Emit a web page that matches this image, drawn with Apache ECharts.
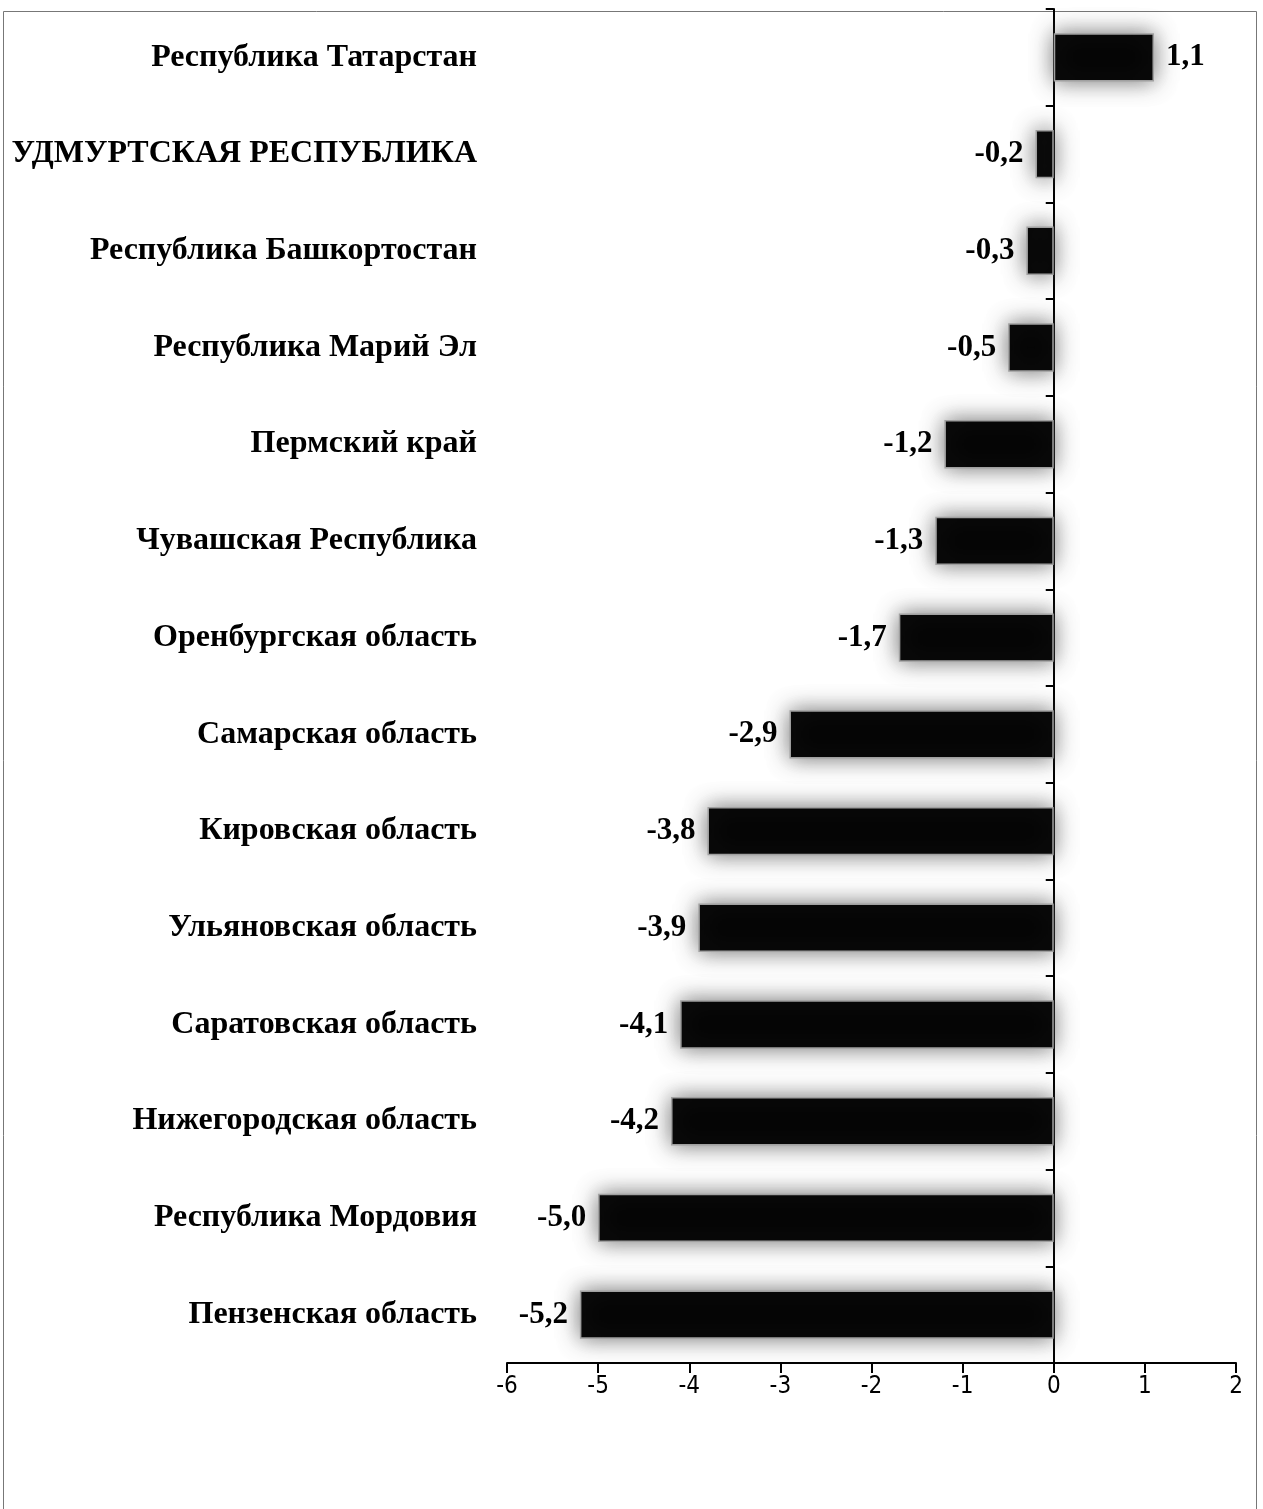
<!DOCTYPE html>
<html>
<head>
<meta charset="utf-8">
<script src="https://cdn.jsdelivr.net/npm/echarts@6/dist/echarts.min.js"></script>
<style>
  html, body { margin: 0; padding: 0; background: #fff; }
  #main { width: 1263px; height: 1509px; }
</style>
</head>
<body>
<div id="main"></div>
<script>
var regions = [
  'Республика Татарстан',
  'УДМУРТСКАЯ РЕСПУБЛИКА',
  'Республика Башкортостан',
  'Республика Марий Эл',
  'Пермский край',
  'Чувашская Республика',
  'Оренбургская область',
  'Самарская область',
  'Кировская область',
  'Ульяновская область',
  'Саратовская область',
  'Нижегородская область',
  'Республика Мордовия',
  'Пензенская область'
];
var values = [1.1, -0.2, -0.3, -0.5, -1.2, -1.3, -1.7, -2.9, -3.8, -3.9, -4.1, -4.2, -5.0, -5.2];
var xTicks = [-6, -5, -4, -3, -2, -1, 0, 1, 2];

var serif = '"Liberation Serif", "Times New Roman", serif';

var myChart = echarts.init(document.getElementById('main'));

// подписи значений слева у отрицательных, справа у положительных
var barData = values.map(function (v) {
  return {
    value: v,
    label: { position: v < 0 ? 'left' : 'right' }
  };
});

myChart.setOption({
  animation: false,
  backgroundColor: '#fff',
  grid: { left: 507, right: 27, top: 9, bottom: 146, containLabel: false },
  graphic: [{
    type: 'rect',
    shape: { x: 3.5, y: 11.5, width: 1253, height: 1510 },
    style: { fill: 'none', stroke: '#777', lineWidth: 1 },
    silent: true
  }],
  xAxis: {
    type: 'value',
    min: xTicks[0],
    max: xTicks[xTicks.length - 1],
    interval: 1,
    splitLine: { show: false },
    axisLine: { show: true, onZero: false, lineStyle: { color: '#000', width: 2 } },
    axisTick: { show: true, length: 10, lineStyle: { color: '#000', width: 2 } },
    axisLabel: {
      color: '#000', fontSize: 24, margin: 12,
      fontFamily: '"Liberation Sans Narrow", "DejaVu Sans Condensed", "Open Sans", sans-serif'
    }
  },
  yAxis: [{
    type: 'category',
    data: regions,
    inverse: true,
    position: 'left',
    axisLine: { show: false, onZero: false },
    axisTick: { show: false },
    axisLabel: {
      color: '#000', fontSize: 32, fontWeight: 'bold', fontFamily: serif, margin: 30
    }
  }, {
    type: 'category',
    data: regions,
    inverse: true,
    position: 'left',
    axisLine: { show: true, onZero: true, lineStyle: { color: '#000', width: 2 } },
    axisTick: { show: true, length: 8, lineStyle: { color: '#000', width: 2 } },
    axisLabel: { show: false }
  }],
  series: [{
    type: 'bar',
    yAxisIndex: 0,
    data: barData,
    barWidth: '50%',
    itemStyle: {
      color: '#050505',
      borderColor: '#a0a0a0',
      borderWidth: 1.5,
      shadowColor: 'rgba(80,80,80,0.8)',
      shadowBlur: 22
    },
    label: {
      show: true,
      distance: 12,
      color: '#000',
      fontSize: 31,
      fontWeight: 'bold',
      fontFamily: serif,
      formatter: function (p) {
        return p.value.toFixed(1).replace('.', ',');
      }
    }
  }]
});
</script>
</body>
</html>
